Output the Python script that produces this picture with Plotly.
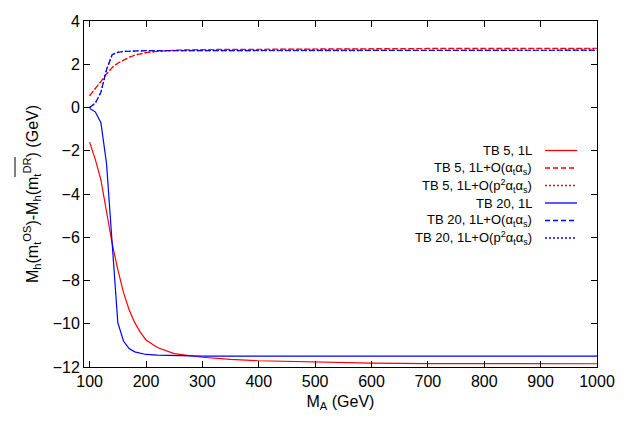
import plotly.graph_objects as go

# ---- data ----
ma = [100, 110, 120, 130, 140, 150, 160, 170, 180, 190, 200, 220, 250, 300,
      350, 400, 500, 600, 700, 800, 900, 1000]

tb5_1l = [-1.6, -2.4, -3.35, -4.85, -6.3, -7.5, -8.55, -9.35, -9.95, -10.4, -10.75,
          -11.1, -11.38, -11.55, -11.65, -11.71, -11.78, -11.82, -11.84, -11.85, -11.85, -11.85]
tb5_as = [0.55, 0.85, 1.2, 1.55, 1.85, 2.05, 2.2, 2.32, 2.42, 2.49, 2.54,
          2.6, 2.65, 2.68, 2.69, 2.7, 2.71, 2.72, 2.73, 2.73, 2.74, 2.74]
tb5_p2 = [0.55, 0.85, 1.2, 1.55, 1.85, 2.05, 2.2, 2.32, 2.42, 2.49, 2.54,
          2.6, 2.64, 2.67, 2.68, 2.69, 2.7, 2.7, 2.71, 2.71, 2.72, 2.72]
tb20_1l = [-0.05, -0.2, -0.7, -2.6, -6.3, -9.95, -10.8, -11.15, -11.3, -11.37, -11.42,
           -11.45, -11.47, -11.5, -11.5, -11.5, -11.5, -11.5, -11.5, -11.5, -11.5, -11.5]
tb20_as = [0.0, 0.2, 0.7, 1.75, 2.45, 2.55, 2.59, 2.61, 2.62, 2.62, 2.63,
           2.63, 2.64, 2.65, 2.65, 2.65, 2.65, 2.65, 2.65, 2.65, 2.65, 2.65]
tb20_p2 = [0.0, 0.2, 0.7, 1.75, 2.45, 2.55, 2.59, 2.61, 2.62, 2.62, 2.63,
           2.63, 2.64, 2.64, 2.64, 2.64, 2.64, 2.64, 2.64, 2.64, 2.64, 2.64]

labels = ["TB 5, 1L",
          "TB 5, 1L+O(α<sub>t</sub>α<sub>s</sub>)",
          "TB 5, 1L+O(p<sup>2</sup>α<sub>t</sub>α<sub>s</sub>)",
          "TB 20, 1L",
          "TB 20, 1L+O(α<sub>t</sub>α<sub>s</sub>)",
          "TB 20, 1L+O(p<sup>2</sup>α<sub>t</sub>α<sub>s</sub>)"]
series = [tb5_1l, tb5_as, tb5_p2, tb20_1l, tb20_as, tb20_p2]
colors = ["#ff0000", "#ff0000", "#ff0000", "#0000ff", "#0000ff", "#0000ff"]
dashes = ["solid", "5px,3px", "2px,2px", "solid", "5px,3px", "2px,2px"]

x_ticks = [100, 200, 300, 400, 500, 600, 700, 800, 900, 1000]
y_ticks = [-12, -10, -8, -6, -4, -2, 0, 2, 4]

# page body has an 8px margin: figure is sized/offset to compensate
OFF = 8
W, H = 629 - OFF, 441 - OFF
L, T = 84 - OFF, 21 - OFF
pw, ph = 597 - 84, 367 - 21
R, B = W - L - pw, H - T - ph

def px(xs):  # screen x -> paper x
    return (xs - 84) / pw

def py(ys):  # screen y -> paper y
    return 1 - (ys - 21) / ph

fig = go.Figure()
for lab, ys, c, d in zip(labels, series, colors, dashes):
    fig.add_trace(go.Scatter(x=ma, y=ys, mode="lines", name=lab,
                             line=dict(color=c, width=1.2, dash=d),
                             showlegend=False))

font = "Liberation Sans, Arial, Helvetica, sans-serif"

# gnuplot-style legend: right-aligned text, sample line on the right
for i, (lab, c, d) in enumerate(zip(labels, colors, dashes)):
    yp = py(150.5 + 17.5 * i)
    fig.add_annotation(x=px(534), y=yp, xref="paper", yref="paper",
                       text=lab, showarrow=False, xanchor="right", yanchor="middle",
                       font=dict(size=13, color="black", family=font))
    fig.add_shape(type="line", xref="paper", yref="paper",
                  x0=px(545), x1=px(577), y0=yp, y1=yp,
                  line=dict(color=c, width=1.3, dash=d))

axis_common = dict(showline=True, linecolor="black", linewidth=1, mirror="allticks",
                   ticks="inside", ticklen=6, tickcolor="black", tickwidth=1,
                   showgrid=False, zeroline=False,
                   tickfont=dict(size=16, color="black", family=font))

fig.update_xaxes(range=[90, 1000], tickvals=x_ticks,
                 title=dict(text="M<sub>A</sub> (GeV)", font=dict(size=16, color="black", family=font),
                            standoff=6),
                 **axis_common)
fig.update_yaxes(range=[-12, 4], tickvals=y_ticks,
                 title=dict(text="M<sub>h</sub>(m<sub>t</sub><sup>OS</sup>)-M<sub>h</sub>(m<sub>t</sub><sup>DR</sup>) (GeV)",
                            font=dict(size=16, color="black", family=font), standoff=10),
                 **axis_common)

# overline above m_t^DR in the y-axis title
fig.add_shape(type="line", xref="paper", yref="paper",
              x0=px(15), x1=px(15), y0=py(157), y1=py(177),
              line=dict(color="black", width=1))

fig.update_layout(width=W, height=H, margin=dict(l=L, r=R, t=T, b=B, autoexpand=False),
                  paper_bgcolor="white", plot_bgcolor="white",
                  font=dict(family=font, color="black"))

fig.write_html("out.html")
